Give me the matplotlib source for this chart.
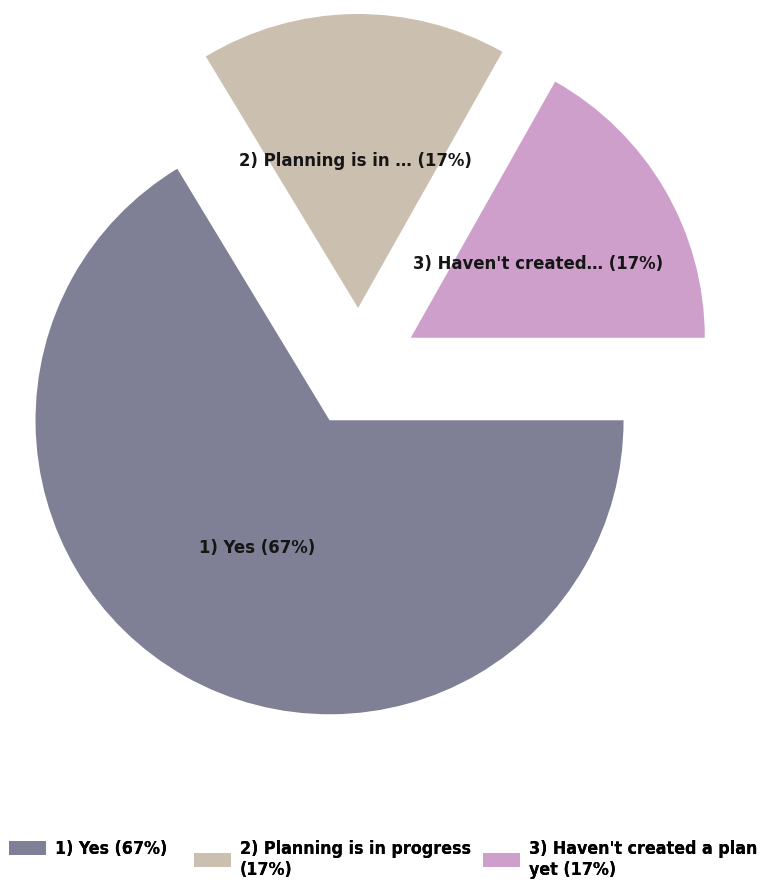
import matplotlib.pyplot as plt
from matplotlib.patches import Patch

# survey answers
labels = ['1) Yes (67%)', '2) Planning is in progress\n(17%)', "3) Haven't created a plan\nyet (17%)"]
short_labels = ['1) Yes (67%)', '2) Planning is in \u2026 (17%)', "3) Haven't created\u2026 (17%)"]
shares = [67, 17, 17]
colors = ['#7f7f95', '#cbbfaf', '#ce9fcb']

fig = plt.figure(figsize=(7.61, 8.80), dpi=100)
ax = fig.add_axes([0, 0, 1, 1])

# pie in pixel units so explode/radius are easy to line up
ax.pie(shares, labels=short_labels, colors=colors, center=(359, 512), radius=294,
       explode=[60, 60, 60], counterclock=False, startangle=0, labeldistance=0.5,
       wedgeprops=dict(linewidth=0),
       textprops=dict(ha='center', va='center', color='#151515', family='DejaVu Sans',
                      fontweight='bold', fontstretch='condensed', fontsize=13.2))
ax.set_xlim(0, 761)
ax.set_ylim(0, 880)
ax.axis('off')

# one legend per entry so the first text lines stay level
leg_x = [9, 194, 483]
for x0, lab, col in zip(leg_x, labels, colors):
    leg = fig.legend([Patch(facecolor=col, edgecolor='none')], [lab], loc='upper left',
                     bbox_to_anchor=(x0 / 761, 1 - 840 / 880), frameon=False,
                     borderpad=0, borderaxespad=0, handlelength=2.08, handleheight=0.84,
                     handletextpad=0.5, labelspacing=0,
                     prop=dict(family='DejaVu Sans', weight='bold', stretch='condensed', size=12.8))
    fig.add_artist(leg)

fig.savefig('out.png', dpi=100)
